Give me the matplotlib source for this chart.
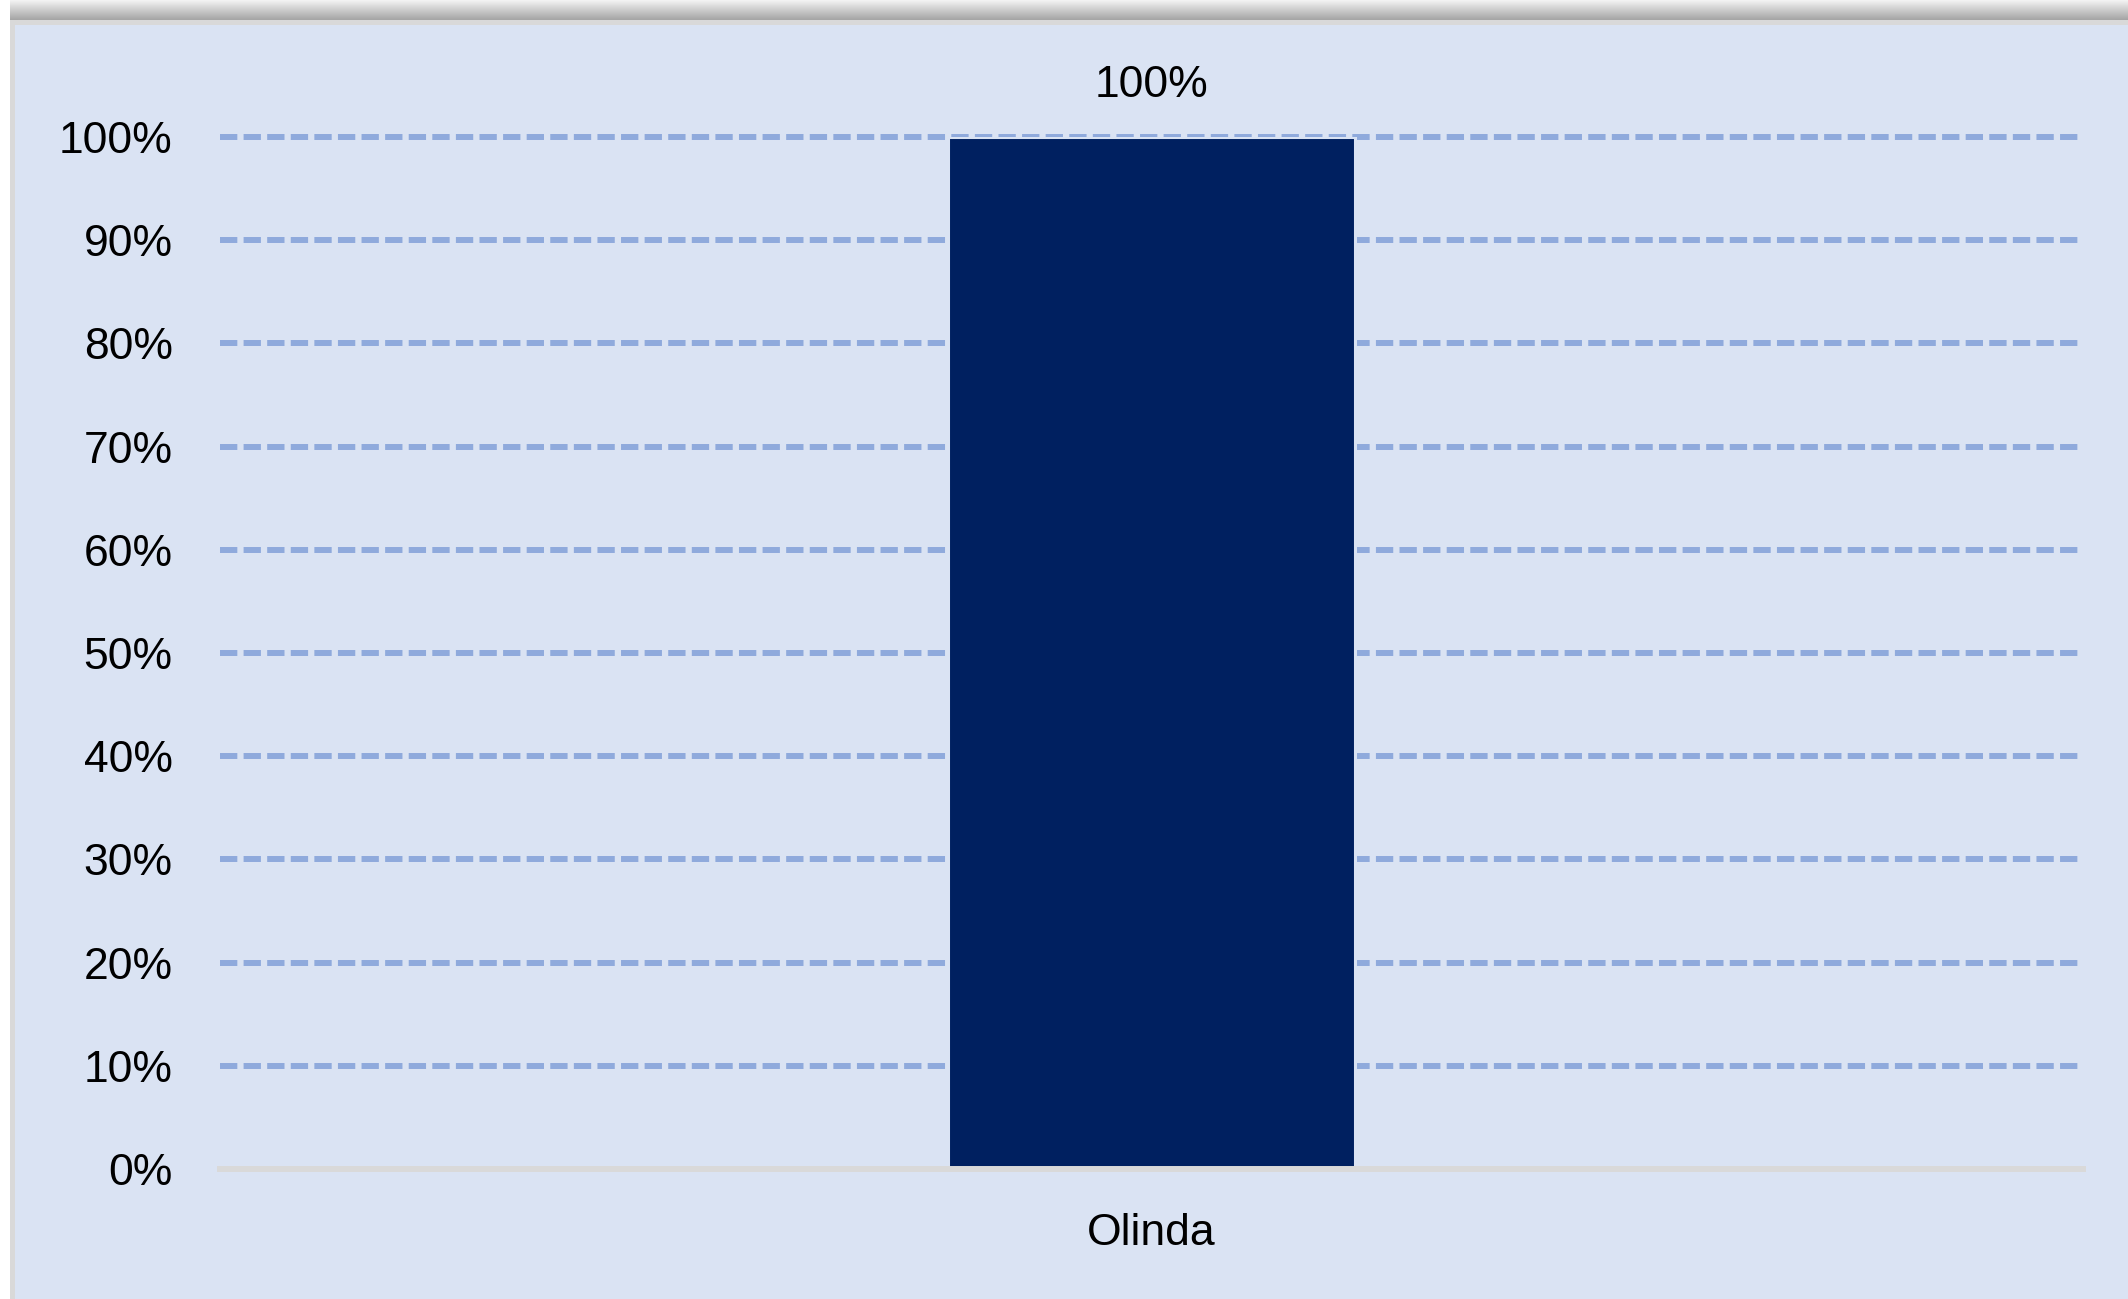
import matplotlib
matplotlib.use("Agg")
import matplotlib.pyplot as plt
import numpy as np
from matplotlib.patches import Rectangle
from matplotlib.ticker import FixedLocator

categories = ["Olinda"]
values = [100]
yticks = [0, 10, 20, 30, 40, 50, 60, 70, 80, 90, 100]
ytick_labels = [f"{v}%" for v in yticks]
bar_labels = ["100%"]

W, H = 2128, 1299
DPI = 100
fig = plt.figure(figsize=(W / DPI, H / DPI), dpi=DPI, facecolor="white")

FONT = ["Liberation Sans Narrow", "Liberation Sans", "DejaVu Sans"]
PANEL = "#DAE3F3"
FS = 32

# panel background and border
fig.patches.append(Rectangle((10 / W, 0), 1 - 10 / W, (H - 20) / H,
                             transform=fig.transFigure, facecolor="#D9D9D9",
                             edgecolor="none", zorder=-10))
fig.patches.append(Rectangle((15 / W, 0), 1 - 15 / W, (H - 25) / H,
                             transform=fig.transFigure, facecolor=PANEL,
                             edgecolor="none", zorder=-9))
# top shadow gradient
sh = fig.add_axes([10 / W, (H - 20) / H, 1 - 10 / W, 20 / H], zorder=-8)
grad = np.linspace(0.95, 0.65, 20).reshape(-1, 1)
sh.imshow(np.repeat(grad, 2, axis=1), aspect="auto", cmap="gray", vmin=0, vmax=1,
          extent=[0, 1, 0, 1], origin="upper", interpolation="bilinear")
sh.set_axis_off()

ax_l, ax_r = 220, 2083
ax_top, ax_bot = 137, 1169
ax = fig.add_axes([ax_l / W, (H - ax_bot) / H, (ax_r - ax_l) / W, (ax_bot - ax_top) / H],
                  zorder=1)
ax.set_facecolor("none")

x = np.arange(len(categories))
bars = ax.bar(x, values, width=0.218, color="#002060", edgecolor=PANEL,
              linewidth=2.2, zorder=3)

ax.set_xlim(-0.5, 0.5)
ax.set_ylim(0, 100)
ax.yaxis.set_major_locator(FixedLocator(yticks))
ax.set_yticklabels(ytick_labels, fontsize=FS, family=FONT, color="black")
ax.set_xticks(x)
ax.set_xticklabels(categories, fontsize=FS, family=FONT, color="black")
ax.tick_params(axis="y", length=0, pad=34)
ax.tick_params(axis="x", length=0, pad=32)

for yv in yticks[1:]:
    ax.axhline(yv, color="#8FAADC", linewidth=4.3, linestyle=(0, (2.9, 1.05)),
               zorder=1, clip_on=False)
ax.axhline(0, color="#D9D9D9", linewidth=4.3, zorder=4, clip_on=False)

for s in ax.spines.values():
    s.set_visible(False)

for b, lab in zip(bars, bar_labels):
    ax.annotate(lab, (b.get_x() + b.get_width() / 2, b.get_height()),
                xytext=(0, 22), textcoords="offset points", ha="center",
                va="bottom", fontsize=FS, family=FONT, color="black")

fig.savefig("out.png", dpi=DPI, facecolor="white")
